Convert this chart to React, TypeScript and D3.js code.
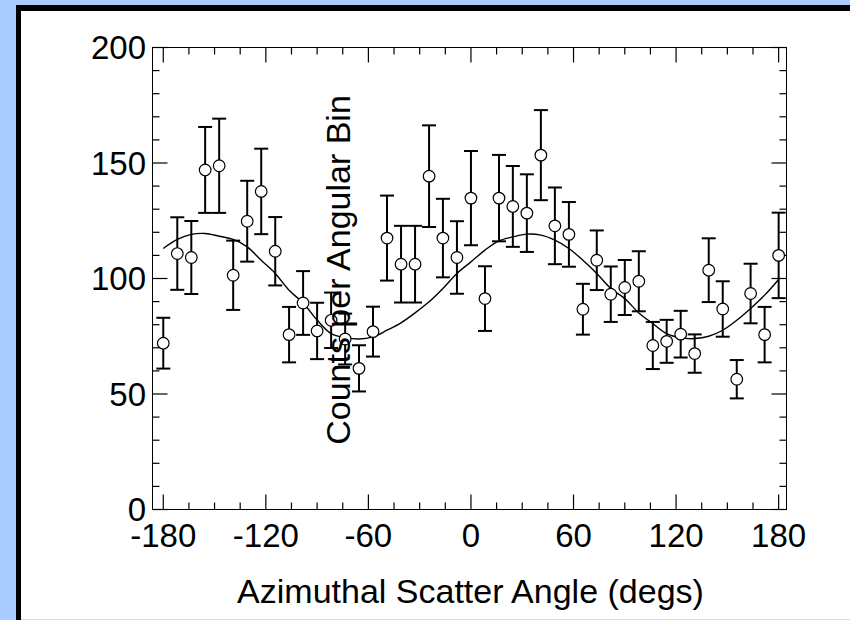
import React from 'react';
import * as d3 from 'd3';

// Bin centres (degrees)
const angles = [
  -180, -171.8, -163.6, -155.5, -147.3, -139.1, -130.9, -122.7, -114.5, -106.4,
  -98.2, -90, -81.8, -73.6, -65.5, -57.3, -49.1, -40.9, -32.7, -24.5,
  -16.4, -8.2, 0, 8.2, 16.4, 24.5, 32.7, 40.9, 49.1, 57.3,
  65.5, 73.6, 81.8, 90, 98.2, 106.4, 114.5, 122.7, 130.9, 139.1,
  147.3, 155.5, 163.6, 171.8, 180,
];
// Counts per angular bin
const counts = [
  72, 110.8, 109.1, 147, 148.8, 101.4, 124.8, 137.7, 111.8, 75.7,
  89.4, 77.3, 81.9, 73.8, 61.1, 77, 117.5, 106.2, 106.2, 144.3,
  117.5, 109.1, 134.8, 91.3, 134.8, 131.2, 128.3, 153.4, 122.8, 119.1,
  86.7, 107.9, 93.2, 96.1, 98.8, 71, 72.8, 75.9, 67.5, 103.6,
  86.8, 56.4, 93.5, 75.7, 110,
];
// Error bar half-lengths
const errors = [
  11, 15.7, 15.8, 18.6, 20.4, 15, 17.5, 18.5, 14.8, 12,
  13.8, 12.2, 12, 11, 10, 10.8, 18.4, 16.6, 16.6, 22,
  17, 15.7, 20.4, 14, 18.7, 17.5, 16.8, 19.5, 16.6, 14,
  11, 12.9, 12, 11.9, 13, 10.2, 9.3, 10.1, 8.3, 13.8,
  12, 8.3, 12.9, 12, 18.5,
];
// Fitted modulation curve, sampled at the bin centres
const fitCurve = [
  113, 116.9, 119.1, 119.5, 118.3, 116.9, 113.7, 107.9, 102.2, 94.9,
  89.4, 82, 76.1, 74.4, 73.8, 74.7, 77.6, 80.8, 85.1, 89.9,
  95.7, 102.2, 107.2, 112.3, 116.3, 118, 119.2, 118.8, 116.6, 113,
  107.9, 102.2, 95.7, 91.3, 85.1, 80.5, 76.1, 74.3, 74, 75,
  77.6, 81.9, 87, 92.8, 99.6,
];
const xTickValues = [-180, -120, -60, 0, 60, 120, 180];
const yTickValues = [0, 50, 100, 150, 200];
const xLabel = 'Azimuthal Scatter Angle (degs)';
const yLabel = 'Counts per Angular Bin';

const FONT = '"Liberation Sans", Arial, Helvetica, sans-serif';

export default function App() {
  const W = 850, H = 620;
  const left = 152.5, right = 786.5, top = 47.5, bottom = 509.5;
  const x = d3.scaleLinear().domain([-186.3, 184.6]).range([left, right]);
  const y = d3.scaleLinear().domain([0, 200]).range([bottom, top]);
  const xMinor = d3.range(-180, 181, 15);
  const yMinor = d3.range(0, 201, 10);
  const majorLen = 15, minorLen = 7;
  const capHalf = 7;

  const line = d3
    .line<number>()
    .x((_, i) => x(angles[i]))
    .y((d) => y(d))
    .curve(d3.curveCatmullRom);

  return (
    <svg
      width={W}
      height={H}
      style={{ position: 'absolute', left: 0, top: 0, display: 'block' }}
      fontFamily={FONT}
    >
      <rect x={0} y={0} width={W} height={H} fill="#aaccff" />
      <rect x={16} y={5} width={W} height={H} fill="#000" />
      <rect x={21} y={11} width={W} height={608} fill="#fff" />
      <rect x={21} y={619} width={W} height={1} fill="#dddddd" />

      {/* axis box */}
      <rect x={left} y={top} width={right - left} height={bottom - top} fill="none" stroke="#000" strokeWidth={1} />

      {/* x ticks */}
      {xMinor.map((v) => {
        const len = xTickValues.includes(v) ? majorLen : minorLen;
        return (
          <g key={'xt' + v}>
            <line x1={x(v)} x2={x(v)} y1={bottom} y2={bottom - len} stroke="#000" strokeWidth={1.2} />
            <line x1={x(v)} x2={x(v)} y1={top} y2={top + len} stroke="#000" strokeWidth={1.2} />
          </g>
        );
      })}
      {/* y ticks */}
      {yMinor.map((v) => {
        const len = yTickValues.includes(v) ? majorLen : minorLen;
        return (
          <g key={'yt' + v}>
            <line x1={left} x2={left + len} y1={y(v)} y2={y(v)} stroke="#000" strokeWidth={1.2} />
            <line x1={right} x2={right - len} y1={y(v)} y2={y(v)} stroke="#000" strokeWidth={1.2} />
          </g>
        );
      })}

      {/* tick labels */}
      {xTickValues.map((v) => (
        <text key={'xl' + v} x={x(v)} y={546.5} textAnchor="middle" fontSize={33} fill="#000">
          {v}
        </text>
      ))}
      {yTickValues.map((v) => (
        <text key={'yl' + v} x={146} y={y(v) + 11.5} textAnchor="end" fontSize={33} fill="#000">
          {v}
        </text>
      ))}

      {/* fit curve */}
      <path d={line(fitCurve) || ''} fill="none" stroke="#000" strokeWidth={1.4} />

      {/* error bars */}
      {angles.map((a, i) => {
        const cx = x(a);
        const yt = y(counts[i] + errors[i]);
        const yb = y(counts[i] - errors[i]);
        return (
          <g key={'eb' + i} stroke="#000" strokeWidth={2}>
            <line x1={cx} x2={cx} y1={yt} y2={yb} />
            <line x1={cx - capHalf} x2={cx + capHalf} y1={yt} y2={yt} />
            <line x1={cx - capHalf} x2={cx + capHalf} y1={yb} y2={yb} />
          </g>
        );
      })}
      {/* points */}
      {angles.map((a, i) => (
        <circle key={'pt' + i} cx={x(a)} cy={y(counts[i])} r={5.8} fill="#fff" stroke="#000" strokeWidth={1.2} />
      ))}

      {/* axis titles */}
      <text x={470.5} y={603} textAnchor="middle" fontSize={34} fill="#000">
        {xLabel}
      </text>
      <text
        transform={`translate(350,270) rotate(-90)`}
        textAnchor="middle"
        fontSize={34}
        fill="#000"
      >
        {yLabel}
      </text>
    </svg>
  );
}
